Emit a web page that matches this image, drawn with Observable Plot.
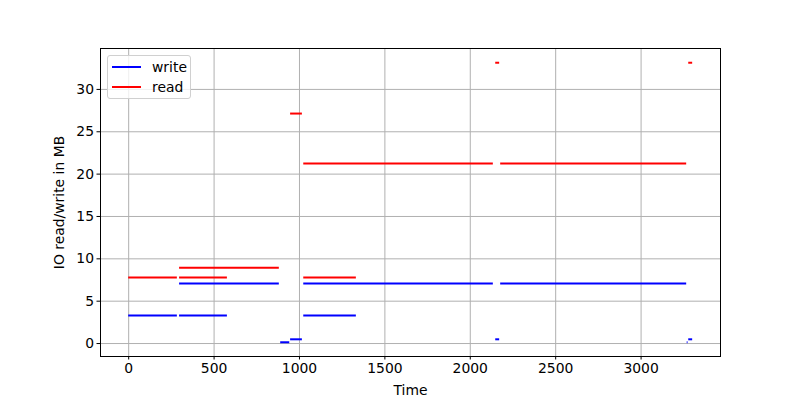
<!DOCTYPE html>
<html>
<head>
<meta charset="utf-8">
<script src="https://cdn.jsdelivr.net/npm/d3@7"></script>
<script src="https://cdn.jsdelivr.net/npm/@observablehq/plot@0.6"></script>
<style>
  html, body { margin: 0; padding: 0; background: #fff; }
  #wrap { position: relative; width: 800px; height: 400px; font-family: "DejaVu Sans", sans-serif; }
  #legend { position: absolute; left: 107px; top: 55px; width: 84px; height: 44px; border: 1px solid #d0d0d0; border-radius: 3px; background: rgba(255,255,255,0.8); box-sizing: border-box; font-size: 13.9px; color: #000; }
  .item { position: absolute; left: 4px; height: 16px; display: flex; align-items: center; }
  .sw { width: 29px; height: 2px; margin-right: 11px; }
</style>
</head>
<body>
<div id="wrap"></div>
<script>
// write segments: start time, end time, MB
const writeStart = [0, 298, 298, 890, 948, 1025, 1025, 2149, 2178, 3270, 3279];
const writeEnd   = [285, 578, 882, 943, 1017, 1333, 2135, 2172, 3267, 3275, 3302];
const writeValue = [3.3, 3.3, 7.1, 0.15, 0.5, 3.3, 7.1, 0.5, 7.1, 0.15, 0.5];
// read segments
const readStart = [0, 298, 298, 948, 1025, 1025, 2149, 2178, 3279];
const readEnd   = [285, 578, 882, 1017, 1333, 2135, 2172, 3267, 3302];
const readValue = [7.8, 7.8, 8.95, 27.15, 7.8, 21.25, 33.15, 21.25, 33.15];

const xTicks = [0, 500, 1000, 1500, 2000, 2500, 3000];
const yTicks = [0, 5, 10, 15, 20, 25, 30];
const seriesNames = ["write", "read"];
const seriesColors = ["#0000ff", "#ff0000"];

const writeData = writeStart.map((s, i) => ({x1: s, x2: writeEnd[i], y: writeValue[i]}));
const readData = readStart.map((s, i) => ({x1: s, x2: readEnd[i], y: readValue[i]}));

const chart = Plot.plot({
  width: 800,
  height: 400,
  marginLeft: 100,
  marginRight: 80,
  marginTop: 48,
  marginBottom: 44,
  style: {fontFamily: "DejaVu Sans, sans-serif", fontSize: "13.9px", color: "#000", background: "#fff"},
  x: {domain: [-165, 3465]},
  y: {domain: [-1.53, 34.83]},
  marks: [
    Plot.gridX(xTicks, {stroke: "#b0b0b0", strokeOpacity: 1, strokeWidth: 1}),
    Plot.gridY(yTicks, {stroke: "#b0b0b0", strokeOpacity: 1, strokeWidth: 1}),
    Plot.ruleY(writeData, {x1: "x1", x2: "x2", y: "y", stroke: seriesColors[0], strokeWidth: 2}),
    Plot.ruleY(readData, {x1: "x1", x2: "x2", y: "y", stroke: seriesColors[1], strokeWidth: 2}),
    Plot.axisX(xTicks, {tickSize: 3.5, tickPadding: 3, stroke: "#000", tickFormat: d3.format("d"), label: "Time", labelAnchor: "center", labelArrow: "none", labelOffset: 38, fontSize: 13.9}),
    Plot.axisY(yTicks, {tickSize: 3.5, tickPadding: 3, stroke: "#000", tickFormat: d3.format("d"), label: "IO read/write in MB", labelAnchor: "center", labelArrow: "none", labelOffset: 46, fontSize: 13.9}),
    Plot.frame({stroke: "#000", strokeWidth: 1})
  ]
});

const wrap = document.getElementById("wrap");
wrap.appendChild(chart);
const legend = document.createElement("div");
legend.id = "legend";
seriesNames.forEach((name, i) => {
  const item = document.createElement("div");
  item.className = "item";
  item.style.top = (3 + i * 20) + "px";
  const sw = document.createElement("span");
  sw.className = "sw";
  sw.style.background = seriesColors[i];
  const t = document.createElement("span");
  t.textContent = name;
  item.appendChild(sw);
  item.appendChild(t);
  legend.appendChild(item);
});
wrap.appendChild(legend);
</script>
</body>
</html>
